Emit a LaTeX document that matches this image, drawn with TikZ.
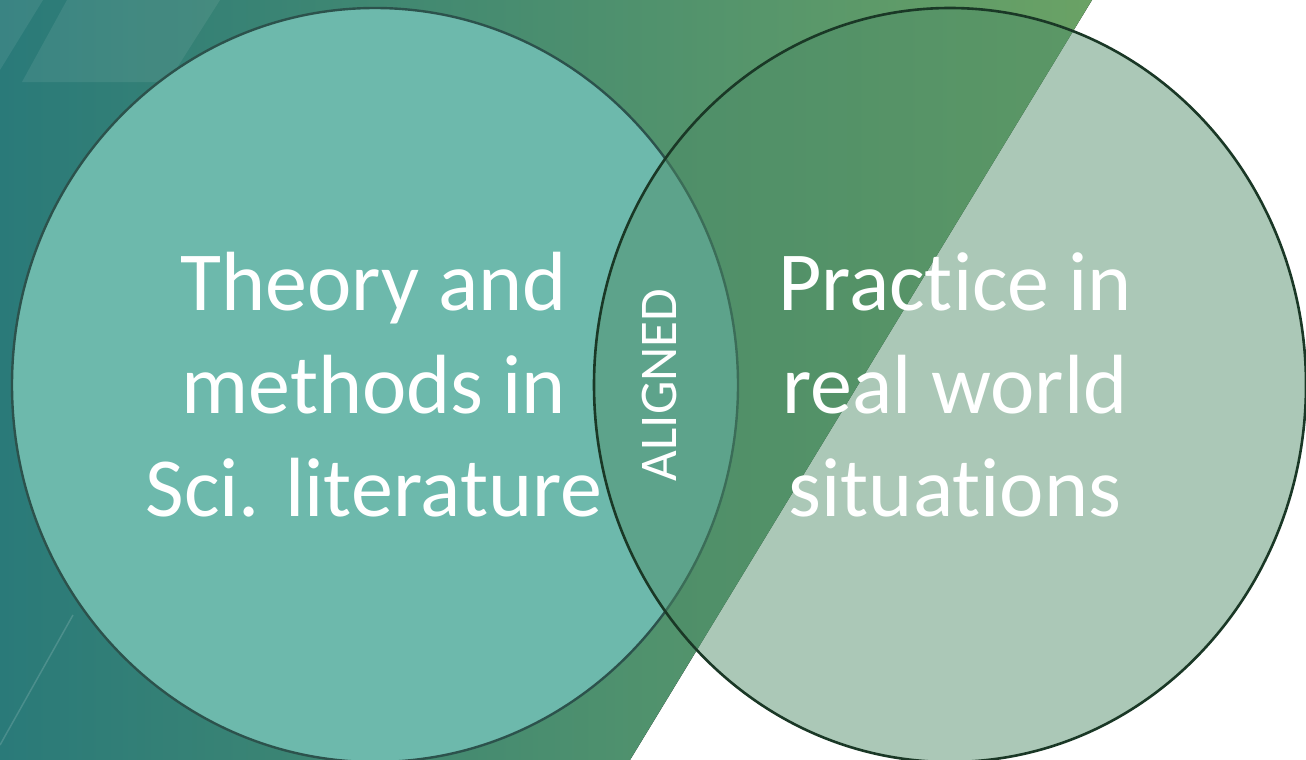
\documentclass[tikz,border=0pt]{standalone}
\usepackage{fontspec}
\setmainfont{Carlito}[Ligatures=NoCommon]
\usepackage{tikz}
\usetikzlibrary{shapes.geometric}
\definecolor{bgteal}{HTML}{2A7A79}
\definecolor{bggreen}{HTML}{6AA265}
\definecolor{theoryfill}{HTML}{6DB9AC}
\definecolor{theoryline}{HTML}{2C524C}
\definecolor{practicefill}{HTML}{4D8C66}
\definecolor{practiceline}{HTML}{1A3826}
\tikzset{
  venn/.style={
    ellipse,
    inner sep=0pt,
  },
  leftset/.style={
    venn,
    fill=theoryfill,
    draw=theoryline,
    line width=2.4pt,
    minimum width=726pt,
    minimum height=754pt,
  },
  rightset/.style={
    venn,
    fill=practicefill,
    fill opacity=0.47,
    draw=practiceline,
    draw opacity=1,
    line width=2.6pt,
    minimum width=712pt,
    minimum height=754pt,
  },
  settext/.style={
    text=white,
    align=center,
    inner sep=0pt,
    font=\fontsize{84}{103}\selectfont,
  },
  lenstext/.style={
    text=white,
    inner sep=0pt,
    rotate=90,
    font=\fontsize{53}{60}\selectfont,
  },
  glint/.style={
    fill=white,
    fill opacity=0.08,
  },
}

\begin{document}
\begin{tikzpicture}[x=1pt,y=-1pt]
		\useasboundingbox (0,0) rectangle (1306,760);
		\clip (0,0) rectangle (1306,760);
		\fill[white] (0,0) rectangle (1306,760);

		% backdrop
		\fill[left color=bgteal, right color=bggreen]
			(0,0) -- (1092,0) -- (630,760) -- (0,760) -- cycle;
		\fill[glint] (0,0) -- (43,0) -- (0,70) -- cycle;
		\fill[glint] (67,0) -- (220,0) -- (168,82) -- (22,82) -- cycle;
		\draw[white, opacity=0.15, line width=1.5pt] (73,615) -- (0,745);

		% sets
		\node[leftset] (theory) at (375,385) {};
		\node[rightset] (practice) at (950,385) {};

		% labels
		\node[settext] (theorylabel) at (374,385)
			{Theory and\\methods in\\Sci. literature};
		\node[settext] (practicelabel) at (955,385)
			{Practice in\\real world\\situations};
		\node[lenstext] (aligned) at (659,385) {ALIGNED};

	\end{tikzpicture}
\end{document}
